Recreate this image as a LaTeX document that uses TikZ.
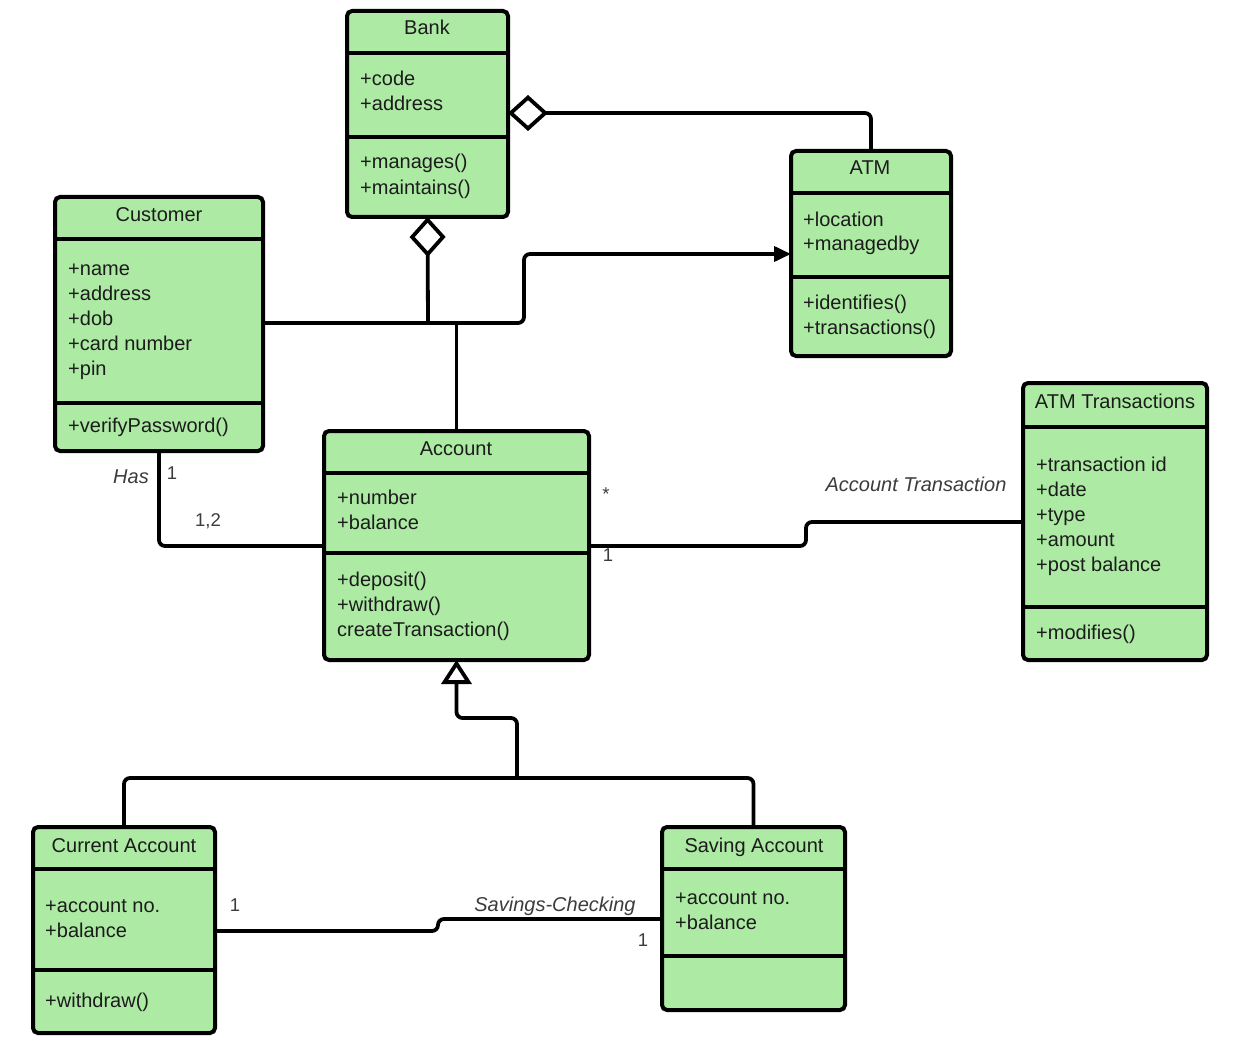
\documentclass[tikz,border=0pt]{standalone}
\usepackage{fontspec}
\setmainfont{Liberation Sans}
\usetikzlibrary{arrows.meta}
\definecolor{umlgreen}{RGB}{173,234,164}
\definecolor{txtdark}{RGB}{28,28,28}
\definecolor{lblgray}{RGB}{60,60,60}
\tikzset{
  classbox/.style={draw=black, line width=4pt, rounded corners=5pt, fill=umlgreen, inner sep=0pt, outer sep=0pt, anchor=north west},
  divider/.style={draw=black, line width=4pt},
  conn/.style={draw=black, line width=3.8pt, rounded corners=6pt},
  attr/.style={anchor=base west, inner sep=0pt, text=txtdark, font=\fontsize{20}{25}\selectfont},
  ttl/.style={anchor=base, inner sep=0pt, text=txtdark, font=\fontsize{20}{25}\selectfont},
  lbl/.style={anchor=base, inner sep=0pt, text=lblgray, font=\fontsize{20}{25}\selectfont\itshape},
  mult/.style={anchor=base, inner sep=0pt, text=lblgray, font=\fontsize{18.5}{22}\selectfont},
  aggtip/.style={{Diamond[open, length=40pt, width=36pt, line width=3.8pt]}-},
  gentip/.style={-{Triangle[open, length=24pt, width=30pt, line width=3.8pt]}},
  navtip/.style={-{Triangle[length=17pt, width=15pt]}}
}
\begin{document}
\begin{tikzpicture}[x=1pt, y=-1pt]
\useasboundingbox[fill=white] (0,0) rectangle (1254,1046);

% ---------- class boxes ----------
\node[classbox, minimum width=161pt, minimum height=206pt] (bank) at (347,11) {};
\node[classbox, minimum width=160pt, minimum height=205pt] (atm) at (791,151) {};
\node[classbox, minimum width=208pt, minimum height=254pt] (cust) at (55,197) {};
\node[classbox, minimum width=265pt, minimum height=229pt] (acct) at (324,431) {};
\node[classbox, minimum width=184pt, minimum height=277pt] (atmt) at (1023,383) {};
\node[classbox, minimum width=182pt, minimum height=206pt] (cur) at (33,827) {};
\node[classbox, minimum width=183pt, minimum height=183pt] (sav) at (662,827) {};

% ---------- dividers ----------
\draw[divider] (bank.west |- 0,53) -- (bank.east |- 0,53);
\draw[divider] (bank.west |- 0,137) -- (bank.east |- 0,137);
\draw[divider] (atm.west |- 0,193) -- (atm.east |- 0,193);
\draw[divider] (atm.west |- 0,277) -- (atm.east |- 0,277);
\draw[divider] (cust.west |- 0,239) -- (cust.east |- 0,239);
\draw[divider] (cust.west |- 0,403) -- (cust.east |- 0,403);
\draw[divider] (acct.west |- 0,473) -- (acct.east |- 0,473);
\draw[divider] (acct.west |- 0,553) -- (acct.east |- 0,553);
\draw[divider] (atmt.west |- 0,427) -- (atmt.east |- 0,427);
\draw[divider] (atmt.west |- 0,607) -- (atmt.east |- 0,607);
\draw[divider] (cur.west |- 0,869) -- (cur.east |- 0,869);
\draw[divider] (cur.west |- 0,970) -- (cur.east |- 0,970);
\draw[divider] (sav.west |- 0,869) -- (sav.east |- 0,869);
\draw[divider] (sav.west |- 0,956) -- (sav.east |- 0,956);

% ---------- Bank ----------
\node[ttl] (bankT) at (427,35) {Bank};
\node[attr] (bankA1) at (360,86) {+code};
\node[attr] (bankA2) at (360,111) {+address};
\node[attr] (bankM1) at (360,169) {+manages()};
\node[attr] (bankM2) at (360,194) {+maintains()};

% ---------- ATM ----------
\node[ttl] (atmT) at (870,175) {ATM};
\node[attr] (atmA1) at (803,226) {+location};
\node[attr] (atmA2) at (803,251) {+managedby};
\node[attr] (atmM1) at (803,309) {+identifies()};
\node[attr] (atmM2) at (803,334) {+transactions()};

% ---------- Customer ----------
\node[ttl] (custT) at (159,222) {Customer};
\node[attr] (custA1) at (68,275) {+name};
\node[attr] (custA2) at (68,300) {+address};
\node[attr] (custA3) at (68,325) {+dob};
\node[attr] (custA4) at (68,350) {+card number};
\node[attr] (custA5) at (68,375) {+pin};
\node[attr] (custM1) at (68,432) {+verifyPassword()};

% ---------- Account ----------
\node[ttl] (acctT) at (456,455) {Account};
\node[attr] (acctA1) at (337,504) {+number};
\node[attr] (acctA2) at (337,529) {+balance};
\node[attr] (acctM1) at (337,586) {+deposit()};
\node[attr] (acctM2) at (337,611) {+withdraw()};
\node[attr] (acctM3) at (337,636) {createTransaction()};

% ---------- ATM Transactions ----------
\node[ttl] (atmtT) at (1115,408) {ATM Transactions};
\node[attr] (atmtA1) at (1036,471) {+transaction id};
\node[attr] (atmtA2) at (1036,496) {+date};
\node[attr] (atmtA3) at (1036,521) {+type};
\node[attr] (atmtA4) at (1036,546) {+amount};
\node[attr] (atmtA5) at (1036,571) {+post balance};
\node[attr] (atmtM1) at (1036,639) {+modifies()};

% ---------- Current Account ----------
\node[ttl] (curT) at (124,852) {Current Account};
\node[attr] (curA1) at (45,912) {+account no.};
\node[attr] (curA2) at (45,937) {+balance};
\node[attr] (curM1) at (45,1007) {+withdraw()};

% ---------- Saving Account ----------
\node[ttl] (savT) at (754,852) {Saving Account};
\node[attr] (savA1) at (675,904) {+account no.};
\node[attr] (savA2) at (675,929) {+balance};

% ---------- connectors ----------
\coordinate (j1) at (428,323);
\coordinate (gbar) at (517,778);

% Bank <>-- ATM
\draw[conn, aggtip] (bank.east |- 0,113) -- (atm.north |- 0,113) -- (atm.north);
% Bank <>-- (Customer/Account junction)
\draw[conn, aggtip] (bank.south) -- (j1);
% Customer --> ATM
\draw[conn, navtip] (cust.east |- j1) -- (524,323) -- (524,254) -- (atm.west |- 0,254);
% Account up to junction
\draw[conn] (acct.north) -- (acct.north |- j1);
% Customer -- Account (Has)
\draw[conn] (cust.south) -- (cust.south |- 0,546) -- (acct.west |- 0,546);
% Account -- ATM Transactions
\draw[conn] (acct.east |- 0,546) -- (806,546) -- (806,522) -- (atmt.west |- 0,522);
% Generalisation
\draw[conn] (cur.north) -- (cur.north |- gbar) -- (sav.north |- gbar) -- (sav.north);
\draw[conn, gentip] (gbar) -- (517,718) -- (acct.south |- 0,718) -- (acct.south);
% Current -- Saving
\draw[conn] (cur.east |- 0,931) -- (438,931) -- (438,919) -- (sav.west |- 0,919);

% ---------- labels ----------
\node[lbl] (hasL) at (131,483) {Has};
\node[mult] (hasM1) at (172,479) {1};
\node[mult] (hasM2) at (208,526) {1,2};
\node[mult, anchor=center] (atStar) at (606,494) {*};
\node[mult] (atOne) at (608,561) {1};
\node[lbl] (atL) at (916,491) {Account Transaction};
\node[mult] (scM1) at (235,911) {1};
\node[mult] (scM2) at (643,946) {1};
\node[lbl] (scL) at (555,911) {Savings-Checking};
\end{tikzpicture}
\end{document}
